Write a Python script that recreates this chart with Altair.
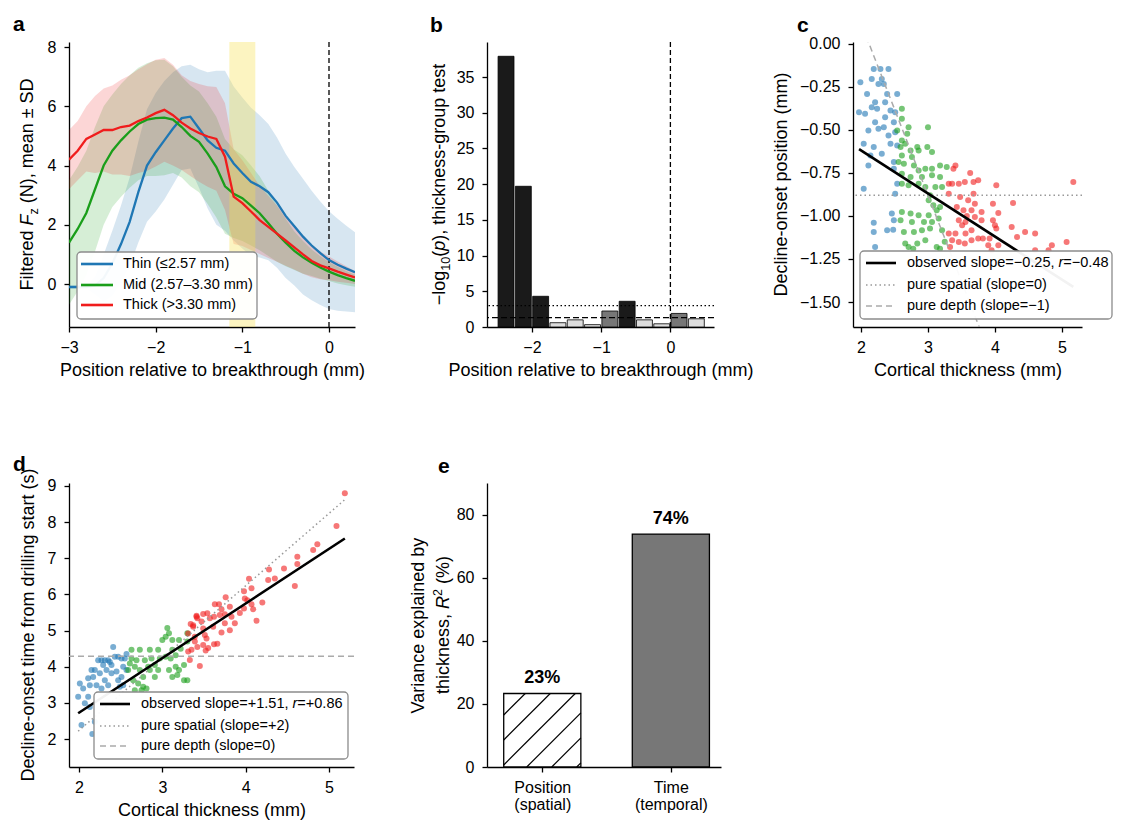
import json
import altair as alt
import pandas as pd

FONT = "Liberation Sans"

# ---------------- a: filtered Fz, mean and SD per thickness group ----------------
POS = [-3.0, -2.9, -2.8, -2.7, -2.6, -2.5, -2.4, -2.3, -2.2, -2.1, -2.0, -1.9, -1.8,
       -1.7, -1.6, -1.5, -1.4, -1.3, -1.2, -1.1, -1.0, -0.9, -0.8, -0.7, -0.6, -0.5,
       -0.4, -0.3, -0.2, -0.1, 0.0, 0.1, 0.2, 0.3]
THIN_MEAN = [-0.1, -0.1, -0.1, -0.05, 0.2, 0.7, 1.35, 2.1, 3.1, 4.0, 4.45, 4.85, 5.25,
             5.6, 5.65, 5.25, 4.85, 4.6, 4.5, 4.07, 3.75, 3.45, 3.3, 3.1, 2.75, 2.3,
             1.95, 1.6, 1.3, 1.04, 0.81, 0.65, 0.52, 0.4]
THIN_SD = [0.05, 0.05, 0.05, 0.3, 0.8, 1.1, 1.3, 1.5, 1.7, 1.9, 2.0, 2.0, 1.9,
           1.75, 1.75, 2.0, 2.3, 2.6, 2.7, 2.6, 2.55, 2.5, 2.4, 2.3, 2.2, 2.1,
           2.0, 1.95, 1.85, 1.75, 1.65, 1.55, 1.45, 1.35]
MID_MEAN = [1.4, 1.86, 2.4, 3.2, 4.0, 4.5, 4.85, 5.15, 5.4, 5.55, 5.6, 5.62, 5.55,
            5.3, 5.0, 4.8, 4.4, 3.95, 3.3, 3.05, 2.9, 2.65, 2.39, 2.05, 1.7, 1.4,
            1.12, 0.9, 0.72, 0.56, 0.42, 0.3, 0.2, 0.11]
MID_SD = [2.1, 2.1, 2.1, 2.1, 2.0, 1.9, 1.9, 1.9, 1.9, 1.9, 1.95, 1.95, 1.8,
          1.7, 1.7, 1.7, 1.7, 1.7, 1.6, 1.5, 1.45, 1.35, 1.25, 1.1, 0.95, 0.8,
          0.65, 0.55, 0.45, 0.38, 0.32, 0.28, 0.24, 0.2]
THICK_MEAN = [4.2, 4.5, 4.9, 5.05, 5.2, 5.2, 5.3, 5.35, 5.5, 5.62, 5.77, 5.88, 5.7,
              5.45, 5.25, 5.1, 4.98, 4.9, 4.3, 2.95, 2.73, 2.45, 2.16, 1.93, 1.7, 1.47,
              1.24, 1.0, 0.78, 0.63, 0.53, 0.42, 0.32, 0.22]
THICK_SD = [1.0, 1.0, 1.1, 1.3, 1.4, 1.5, 1.6, 1.7, 1.75, 1.8, 1.8, 1.75, 1.7,
            1.6, 1.6, 1.65, 1.7, 1.75, 1.8, 1.6, 1.45, 1.3, 1.15, 1.05, 0.95, 0.85,
            0.75, 0.65, 0.55, 0.47, 0.4, 0.34, 0.28, 0.22]
GROUP_NAMES = ["Thin (≤2.57 mm)", "Mid (2.57–3.30 mm)", "Thick (>3.30 mm)"]
GROUP_COLORS = ["#1f77b4", "#1a9e1a", "#f01c1c"]
ONSET_WINDOW = [-1.15, -0.85]

# ---------------- b: group test per 0.25 mm bin ----------------
BIN_CENTER = [-2.375, -2.125, -1.875, -1.625, -1.375, -1.125, -0.875, -0.625,
              -0.375, -0.125, 0.125, 0.375]
NEG_LOG_P = [37.9, 19.7, 4.3, 0.6, 1.0, 0.33, 2.24, 3.6, 1.0, 0.45, 1.9, 1.15]
P05, P001 = 1.301, 3.0
SIG_FILLS = ["#dddddd", "#777777", "#1a1a1a"]   # ns, p<0.05, p<0.001

# ---------------- c: thickness vs decline-onset position ----------------
C_THIN_T = [1.99, 2.19, 2.29, 2.41, 2.16, 2.26, 2.34, 2.31, 2.09, 1.97, 2.21, 2.39, 2.54,
            2.24, 2.36, 2.16, 2.21, 2.06, 2.44, 2.51, 2.36, 2.11, 2.26, 2.49, 2.34, 2.51,
            2.04, 2.19, 2.41, 2.44, 2.54, 2.14, 2.31, 2.49, 2.11, 2.49, 2.54, 2.04, 2.51,
            2.46, 2.49, 2.19, 2.19, 2.39, 2.21, 2.48]
C_THIN_POS = [-0.224, -0.147, -0.147, -0.147, -0.205, -0.234, -0.234, -0.205, -0.292,
              -0.398, -0.340, -0.292, -0.292, -0.378, -0.340, -0.369, -0.456, -0.407,
              -0.388, -0.398, -0.427, -0.504, -0.494, -0.456, -0.485, -0.514, -0.581,
              -0.600, -0.533, -0.581, -0.591, -0.649, -0.639, -0.687, -0.707, -0.726,
              -0.813, -0.842, -0.871, -0.986, -1.025, -1.040, -1.093, -1.083, -1.180, -1.080]
C_MID_T = [2.61, 2.61, 2.71, 2.54, 2.69, 3.00, 2.61, 2.66, 2.59, 2.74, 2.84, 2.86, 2.99,
           3.06, 2.61, 2.76, 2.56, 2.64, 2.79, 2.96, 3.06, 3.18, 2.86, 2.61, 2.74, 2.91,
           3.06, 3.28, 3.18, 2.61, 2.71, 2.86, 2.96, 3.11, 3.21, 3.03, 3.01, 3.08, 3.18,
           2.61, 2.74, 2.86, 3.01, 3.13, 2.59, 2.76, 2.94, 3.06, 3.16, 2.64, 2.79, 2.91,
           3.03, 3.21, 2.66, 2.84, 2.96, 3.13, 2.71, 2.78, 3.18, 3.25]
C_MID_POS = [-0.378, -0.436, -0.485, -0.504, -0.523, -0.485, -0.562, -0.581, -0.600,
             -0.620, -0.600, -0.620, -0.600, -0.629, -0.649, -0.658, -0.687, -0.697,
             -0.707, -0.726, -0.726, -0.707, -0.736, -0.755, -0.774, -0.774, -0.764,
             -0.716, -0.774, -0.813, -0.822, -0.813, -0.832, -0.832, -0.832, -0.880,
             -0.909, -0.938, -0.948, -0.977, -0.986, -0.996, -0.996, -0.967, -1.025,
             -1.035, -1.035, -1.035, -1.015, -1.093, -1.093, -1.083, -1.073, -1.083,
             -1.160, -1.160, -1.141, -1.180, -1.180, -1.190, -1.190, -1.150]
C_THICK_T = [3.41, 3.38, 3.31, 3.36, 3.46, 3.31, 3.48, 3.43, 3.53, 3.46, 3.56, 3.51, 3.31,
             3.41, 3.56, 3.36, 3.46, 3.33, 3.63, 3.55, 3.68, 3.75, 4.02, 5.17, 3.68, 3.60,
             3.70, 3.97, 4.27, 3.65, 3.80, 4.05, 3.70, 3.58, 3.80, 3.97, 4.00, 3.65, 4.25,
             4.02, 4.45, 4.60, 4.33, 3.75, 3.82, 3.92, 3.65, 3.90, 4.05, 4.85, 5.07, 3.95,
             4.60, 4.80, 3.55]
C_THICK_POS = [-0.707, -0.726, -0.813, -0.813, -0.813, -0.871, -0.890, -0.948, -0.967,
               -1.025, -1.035, -1.054, -1.102, -1.102, -1.102, -1.141, -1.151, -1.180,
               -0.751, -0.803, -0.803, -0.793, -0.822, -0.803, -0.871, -0.909, -0.929,
               -0.929, -0.925, -0.967, -0.977, -0.983, -1.006, -1.000, -1.025, -1.025,
               -1.054, -1.083, -1.064, -1.073, -1.093, -1.102, -1.122, -1.131, -1.131,
               -1.131, -1.141, -1.170, -1.170, -1.170, -1.151, -1.199, -1.199, -1.199, -1.160]
C_SLOPE, C_INTERCEPT, C_R = -0.25, -0.12, -0.48
C_SPATIAL = -0.88            # pure spatial: constant position
C_DEPTH_INTERCEPT = 2.12     # pure depth: slope -1

# ---------------- d: thickness vs decline-onset time ----------------
D_THIN_T = [2.01, 2.05, 1.99, 2.07, 2.03, 2.19, 2.17, 2.13, 2.23, 2.27, 2.31, 2.35, 2.37,
            2.29, 2.39, 2.33, 2.43, 2.47, 2.51, 2.55, 2.41, 2.57, 2.25, 2.31, 2.35, 2.21,
            2.27, 2.39, 2.45, 2.47, 2.53, 2.57, 2.51, 2.11, 2.15, 2.49, 2.53, 2.19, 2.16,
            2.11, 2.13]
D_THIN_TIME = [3.54, 3.40, 3.17, 2.99, 2.39, 3.91, 3.72, 3.49, 4.18, 4.18, 4.18, 4.18, 4.13,
               4.05, 4.05, 3.91, 4.28, 4.28, 4.23, 4.23, 4.55, 4.35, 3.82, 3.63, 3.49, 3.49,
               3.40, 3.82, 3.87, 3.63, 4.00, 3.91, 3.72, 3.68, 3.91, 3.45, 3.49, 2.48, 2.14,
               3.17, 2.89]
D_MID_T = [2.63, 2.63, 2.69, 2.61, 2.67, 2.59, 2.73, 2.79, 2.87, 2.85, 2.73, 2.95, 3.00,
           3.04, 3.08, 3.12, 3.06, 3.20, 3.30, 3.30, 3.22, 3.12, 3.04, 3.10, 3.16, 2.97,
           2.91, 2.83, 2.77, 2.91, 2.85, 2.95, 3.08, 3.16, 3.20, 3.26, 3.12, 3.18, 3.26,
           3.30, 2.65, 2.71, 2.77, 2.67, 2.75, 2.81]
D_MID_TIME = [4.47, 4.23, 4.18, 4.09, 4.00, 3.91, 3.91, 4.18, 4.23, 4.47, 4.47, 4.47, 4.74,
              4.83, 4.93, 4.74, 5.07, 4.74, 4.93, 4.70, 4.50, 4.47, 4.28, 4.23, 4.32, 4.23,
              4.05, 4.00, 3.72, 3.72, 3.91, 3.91, 3.91, 4.00, 3.91, 4.05, 3.72, 3.77, 3.63,
              3.63, 3.63, 3.54, 3.45, 3.35, 3.35, 3.40]
D_THICK_T = [5.19, 5.09, 4.86, 4.81, 4.62, 4.62, 4.46, 4.35, 4.27, 4.28, 4.59, 4.04, 4.07,
             3.98, 3.76, 3.99, 4.02, 4.20, 4.07, 4.09, 3.98, 3.81, 3.68, 3.63, 3.71, 3.93,
             3.83, 3.75, 3.69, 3.62, 3.54, 3.49, 3.41, 3.42, 3.47, 3.57, 3.87, 3.75, 4.13,
             3.81, 3.71, 3.61, 3.49, 3.37, 3.34, 3.31, 3.51, 3.39, 3.53, 3.31, 3.33, 3.45,
             3.49, 3.52, 3.62, 3.66, 3.42, 3.55, 3.41, 3.37, 3.39, 3.35]
D_THICK_TIME = [8.80, 7.89, 7.39, 7.23, 7.04, 6.84, 6.72, 6.44, 6.40, 6.69, 6.23, 6.43, 6.17,
                6.09, 5.92, 5.89, 5.84, 5.78, 5.73, 5.59, 5.61, 5.66, 5.73, 5.73, 5.59, 5.49,
                5.38, 5.45, 5.43, 5.38, 5.48, 5.46, 5.41, 5.34, 5.25, 5.34, 5.20, 5.20, 5.27,
                5.01, 4.95, 5.11, 5.06, 5.11, 5.18, 4.92, 4.88, 4.83, 4.78, 4.42, 4.19, 4.02,
                4.60, 4.45, 4.62, 4.64, 4.55, 4.52, 5.38, 5.15, 4.70, 4.47]
D_SLOPE, D_INTERCEPT, D_R = 1.51, -0.29, 0.86
D_SPATIAL_SLOPE, D_SPATIAL_INTERCEPT = 2.0, -1.76
D_DEPTH = 4.29

# ---------------- e: variance explained ----------------
E_CATS = [["Position", "(spatial)"], ["Time", "(temporal)"]]
E_R2 = [23.3, 73.8]
E_TEXT = ["23%", "74%"]
E_FILL = ["white", "#777777"]

# panel sizes (plot areas)
W_A, H_A = 286, 285
W_B, W_C = 227, 229
W_D, H_D = 285, 284
W_E = 234

ONE = pd.DataFrame({"k": [0]})

# Arial / Liberation Sans advance widths, used to place mixed-style title pieces
ARIAL = {}
for chars, w in [("ijl", 222), (" ,.:;!Itf[]", 278), ("r()-", 333), ("cksvxyzJ", 500),
                 ("abdeghnopqu0123456789L–", 556), ("=+−<>", 584), ("≤≥±", 549),
                 ("ABEKPSVXY", 667), ("FTZ", 611), ("CDHNRUw", 722), ("GOQ", 778),
                 ("mM", 833), ("%", 889)]:
    for ch in chars:
        ARIAL[ch] = w


def text_width(s, size):
    return sum(ARIAL.get(ch, 556) for ch in s) * size / 1000


def signed(v):
    return ("+" if v > 0 else "−") + f"{abs(v):.2f}"


def rich(pieces, x, y, size, angle=0, center=False, baseline="alphabetic"):
    sizes = [size * 0.7 if st in ("sub", "sup") else size for _, st in pieces]
    widths = [text_width(t, s) for (t, _), s in zip(pieces, sizes)]
    off = -sum(widths) / 2 if center else 0
    out = []
    for (t, st), s, w in zip(pieces, sizes, widths):
        shift = 0.28 * size if st == "sub" else (-0.4 * size if st == "sup" else 0)
        # the renderer trims blanks, so a leading blank becomes an offset
        lead = text_width(t[:len(t) - len(t.lstrip())], s)
        out.append(alt.Chart(ONE).mark_text(
            text=t.strip(), font=FONT, fontSize=s, color="black", align="left",
            baseline=baseline, angle=angle, dx=off + lead, dy=shift,
            fontStyle="italic" if st == "i" else "normal"
        ).encode(x=alt.value(x), y=alt.value(y)))
        off += w
    return out


def y_title(pieces, x, h):
    return rich(pieces, x, h / 2, 18, angle=270, center=True)


def letter(ch, x, y):
    return alt.Chart(ONE).mark_text(
        text=ch, font=FONT, fontSize=21, fontWeight="bold", color="black",
        align="left", baseline="alphabetic"
    ).encode(x=alt.value(x), y=alt.value(y))


def legend(box, sample_x, text_x, rows_y, styles, labels):
    layers = [alt.Chart(ONE).mark_rect(
        fill="white", fillOpacity=0.95, stroke="#8c8c8c", strokeWidth=1.3, cornerRadius=4
    ).encode(x=alt.value(box[0]), x2=alt.value(box[1]), y=alt.value(box[2]), y2=alt.value(box[3]))]
    for yy, st, lab in zip(rows_y, styles, labels):
        layers.append(alt.Chart(ONE).mark_rule(**st).encode(
            x=alt.value(sample_x[0]), x2=alt.value(sample_x[1]), y=alt.value(yy)))
        pieces = lab if isinstance(lab, list) else [(lab, "n")]
        layers += rich(pieces, text_x, yy, 14.5, baseline="middle")
    return layers


def qx(domain, values, title=None, **kw):
    def make(field):
        return alt.X(f"{field}:Q", scale=alt.Scale(domain=domain, nice=False, zero=False),
                     axis=alt.Axis(values=values, title=title, **kw))
    return make


def qy(domain, values, **kw):
    def make(field):
        return alt.Y(f"{field}:Q", scale=alt.Scale(domain=domain, nice=False, zero=False),
                     axis=alt.Axis(values=values, title=None, **kw), stack=None)
    return make


group_color = alt.Color("group:N", scale=alt.Scale(domain=GROUP_NAMES, range=GROUP_COLORS),
                        legend=None)
POS_TITLE = "Position relative to breakthrough (mm)"

# ---------------- panel a ----------------
rows = []
for name, mean, sd in zip(GROUP_NAMES, [THIN_MEAN, MID_MEAN, THICK_MEAN],
                          [THIN_SD, MID_SD, THICK_SD]):
    for p, m, s in zip(POS, mean, sd):
        rows.append({"pos": p, "group": name, "mean": m, "lo": m - s, "hi": m + s})
a_df = pd.DataFrame(rows)
xa = qx([-3, 0.3], [-3, -2, -1, 0], POS_TITLE, format="d")
ya = qy([-1.45, 8.17], [0, 2, 4, 6, 8], format="d")

a_bands = alt.Chart(a_df).mark_area(opacity=0.18, clip=True).encode(
    x=xa("pos"), y=ya("lo"), y2="hi:Q", color=group_color)
a_window = alt.Chart(pd.DataFrame({"x0": [ONSET_WINDOW[0]], "x1": [ONSET_WINDOW[1]]})).mark_rect(
    color="#f5df4d", opacity=0.35).encode(x=xa("x0"), x2="x1:Q", y=alt.value(0), y2=alt.value(H_A))
a_zero = alt.Chart(pd.DataFrame({"x": [0]})).mark_rule(
    color="black", strokeWidth=1.3, strokeDash=[5, 3]).encode(x=xa("x"))
a_lines = alt.Chart(a_df).mark_line(strokeWidth=2.3, clip=True).encode(
    x=xa("pos"), y=ya("mean"), color=group_color)
a_legend = legend((8, 188, 210, 277), (12, 44), 54, (222, 243, 263),
                  [dict(color=c, strokeWidth=2.6) for c in GROUP_COLORS], GROUP_NAMES)
panel_a = alt.layer(
    a_bands, a_window, a_zero, a_lines, *a_legend,
    *y_title([("Filtered ", "n"), ("F", "i"), ("z", "sub"), (" (N), mean ± SD", "n")], -36, H_A),
    letter("a", -56, -11),
).properties(width=W_A, height=H_A)

# ---------------- panel b ----------------
b_df = pd.DataFrame({"center": BIN_CENTER, "nlp": NEG_LOG_P})
b_df["lo"] = b_df["center"] - 0.115
b_df["hi"] = b_df["center"] + 0.115
b_df["base"] = 0.0
b_df["fill"] = [SIG_FILLS[2] if v > P001 else (SIG_FILLS[1] if v > P05 else SIG_FILLS[0])
                for v in NEG_LOG_P]
xb = qx([-2.65, 0.63], [-2, -1, 0], POS_TITLE, format="d")
yb = qy([0, 39.9], [0, 5, 10, 15, 20, 25, 30, 35], format="d")
b_bars = alt.Chart(b_df).mark_rect(stroke="black", strokeWidth=0.8).encode(
    x=xb("lo"), x2="hi:Q", y=yb("nlp"), y2="base:Q", fill=alt.Fill("fill:N", scale=None))
b_p001 = alt.Chart(pd.DataFrame({"v": [P001]})).mark_rule(
    color="black", strokeWidth=1.2, strokeDash=[1.5, 2.5]).encode(y=yb("v"))
b_p05 = alt.Chart(pd.DataFrame({"v": [P05]})).mark_rule(
    color="black", strokeWidth=1.2, strokeDash=[6, 3]).encode(y=yb("v"))
b_zero = alt.Chart(pd.DataFrame({"x": [0]})).mark_rule(
    color="black", strokeWidth=1.3, strokeDash=[5, 3]).encode(x=xb("x"))
panel_b = alt.layer(
    b_bars, b_p001, b_p05, b_zero,
    *y_title([("−log", "n"), ("10", "sub"), ("(", "n"), ("p", "i"),
              ("), thickness-group test", "n")], -42, H_A),
    letter("b", -57, -10),
).properties(width=W_B, height=H_A)


# ---------------- scatter helpers ----------------
def scatter_df(groups):
    out = []
    for name, ts, vs in groups:
        out += [{"t": t, "v": v, "group": name} for t, v in zip(ts, vs)]
    return pd.DataFrame(out)


LEG_STYLES = [dict(color="black", strokeWidth=2.6),
              dict(color="#999999", strokeWidth=1.5, strokeDash=[1.5, 3]),
              dict(color="#aaaaaa", strokeWidth=1.5, strokeDash=[6, 4])]

# ---------------- panel c ----------------
c_df = scatter_df([(GROUP_NAMES[0], C_THIN_T, C_THIN_POS), (GROUP_NAMES[1], C_MID_T, C_MID_POS),
                   (GROUP_NAMES[2], C_THICK_T, C_THICK_POS)])
xc = qx([1.88, 5.3], [2, 3, 4, 5], "Cortical thickness (mm)", format="d")
yc = qy([-1.645, 0.01], [0, -0.25, -0.5, -0.75, -1.0, -1.25, -1.5], format=".2f")
c_fit = pd.DataFrame({"t": [c_df["t"].min(), c_df["t"].max()]})
c_fit["obs"] = C_INTERCEPT + C_SLOPE * c_fit["t"]
c_fit["depth"] = C_DEPTH_INTERCEPT - c_fit["t"]
c_pts = alt.Chart(c_df).mark_circle(size=36, opacity=0.6).encode(
    x=xc("t"), y=yc("v"), color=group_color)
c_obs = alt.Chart(c_fit).mark_line(color="black", strokeWidth=2.6, clip=True).encode(
    x=xc("t"), y=yc("obs"))
c_depth = alt.Chart(c_fit).mark_line(clip=True, **LEG_STYLES[2]).encode(x=xc("t"), y=yc("depth"))
c_spatial = alt.Chart(pd.DataFrame({"v": [C_SPATIAL]})).mark_rule(**LEG_STYLES[1]).encode(y=yc("v"))
c_legend = legend((7, 259, 209, 277), (13, 43), 54, (221, 243, 264), LEG_STYLES,
                  [[(f"observed slope={signed(C_SLOPE)}, ", "n"), ("r", "i"), (f"={signed(C_R)}", "n")],
                   "pure spatial (slope=0)", "pure depth (slope=−1)"])
panel_c = alt.layer(
    c_pts, c_spatial, c_depth, c_obs, *c_legend,
    *y_title([("Decline-onset position (mm)", "n")], -66, H_A),
    letter("c", -56, -10),
).properties(width=W_C, height=H_A)

# ---------------- panel d ----------------
d_df = scatter_df([(GROUP_NAMES[0], D_THIN_T, D_THIN_TIME), (GROUP_NAMES[1], D_MID_T, D_MID_TIME),
                   (GROUP_NAMES[2], D_THICK_T, D_THICK_TIME)])
xd = qx([1.88, 5.3], [2, 3, 4, 5], "Cortical thickness (mm)", format="d")
yd = qy([1.23, 9.08], [2, 3, 4, 5, 6, 7, 8, 9], format="d")
d_fit = pd.DataFrame({"t": [d_df["t"].min(), d_df["t"].max()]})
d_fit["obs"] = D_INTERCEPT + D_SLOPE * d_fit["t"]
d_fit["spatial"] = D_SPATIAL_INTERCEPT + D_SPATIAL_SLOPE * d_fit["t"]
d_pts = alt.Chart(d_df).mark_circle(size=36, opacity=0.6).encode(
    x=xd("t"), y=yd("v"), color=group_color)
d_obs = alt.Chart(d_fit).mark_line(color="black", strokeWidth=2.6, clip=True).encode(
    x=xd("t"), y=yd("obs"))
d_spatial = alt.Chart(d_fit).mark_line(clip=True, **LEG_STYLES[1]).encode(x=xd("t"), y=yd("spatial"))
d_depth = alt.Chart(pd.DataFrame({"v": [D_DEPTH]})).mark_rule(**LEG_STYLES[2]).encode(y=yd("v"))
d_legend = legend((25, 279, 209, 276), (31, 61), 72, (221, 243, 263), LEG_STYLES,
                  [[(f"observed slope={signed(D_SLOPE)}, ", "n"), ("r", "i"), (f"={signed(D_R)}", "n")],
                   "pure spatial (slope=+2)", "pure depth (slope=0)"])
panel_d = alt.layer(
    d_pts, d_depth, d_spatial, d_obs, *d_legend,
    *y_title([("Decline-onset time from drilling start (s)", "n")], -35, H_D),
    letter("d", -56, -12),
).properties(width=W_D, height=H_D)

# ---------------- panel e ----------------
E_XDOM, E_YDOM, E_HALF = [-0.43, 1.39], [0, 90], 0.3
e_df = pd.DataFrame({"k": [0, 1], "r2": E_R2, "lab": E_TEXT, "fill": E_FILL})
e_df["lo"] = e_df["k"] - E_HALF
e_df["hi"] = e_df["k"] + E_HALF
e_df["base"] = 0.0
label_expr = f"datum.value == 0 ? {json.dumps(E_CATS[0])} : {json.dumps(E_CATS[1])}"
xe = qx(E_XDOM, [0, 1], None, labelExpr=label_expr, labelLineHeight=17)
ye = qy(E_YDOM, [0, 20, 40, 60, 80], format="d")

# diagonal hatch inside the "Position" bar, 45 degrees on screen
px_x = W_E / (E_XDOM[1] - E_XDOM[0])
px_y = H_D / (E_YDOM[1] - E_YDOM[0])
bw, bh = 2 * E_HALF * px_x, E_R2[0] * px_y
hatch = []
for k in range(-4, 5):
    c = -2 + 25 * k
    y0, y1 = max(0.0, -c), min(bh, bw - c)
    if y1 > y0:
        hatch.append({"x": -E_HALF + (y0 + c) / px_x, "y": y0 / px_y,
                      "x2": -E_HALF + (y1 + c) / px_x, "y2": y1 / px_y})
e_bars = alt.Chart(e_df).mark_rect(stroke="black", strokeWidth=1.3).encode(
    x=xe("lo"), x2="hi:Q", y=ye("r2"), y2="base:Q", fill=alt.Fill("fill:N", scale=None))
e_hatch = alt.Chart(pd.DataFrame(hatch)).mark_rule(color="black", strokeWidth=1.2).encode(
    x=xe("x"), x2="x2:Q", y=ye("y"), y2="y2:Q")
e_text = alt.Chart(e_df).mark_text(font=FONT, fontSize=18, fontWeight="bold", color="black",
                                   dy=-10, baseline="alphabetic").encode(
    x=xe("k"), y=ye("r2"), text="lab:N")
panel_e = alt.layer(
    e_bars, e_hatch, e_text,
    *y_title([("Variance explained by", "n")], -63, H_D),
    *y_title([("thickness, ", "n"), ("R", "i"), ("2", "sup"), (" (%)", "n")], -38, H_D),
    letter("e", -49, -10),
).properties(width=W_E, height=H_D)

chart = alt.concat(
    panel_a, panel_b, panel_c, panel_d, panel_e,
    columns=3, spacing={"row": 156, "column": 132}, bounds="flush"
).resolve_scale(color="independent").properties(
    padding={"left": 5, "top": 6, "right": 2, "bottom": 5}, background="white"
).configure_view(stroke=None).configure_axis(
    labelFont=FONT, titleFont=FONT, labelFontSize=16, titleFontSize=18,
    titleFontWeight="normal", labelColor="black", titleColor="black",
    domainColor="black", tickColor="black", domainWidth=1.3, tickWidth=1.3,
    tickSize=5, grid=False, labelFlush=False, labelOverlap=False
).configure_axisX(labelPadding=7, titlePadding=6).configure_axisY(labelPadding=8)

chart.save("out.html", embed_options={"renderer": "svg", "actions": False})
